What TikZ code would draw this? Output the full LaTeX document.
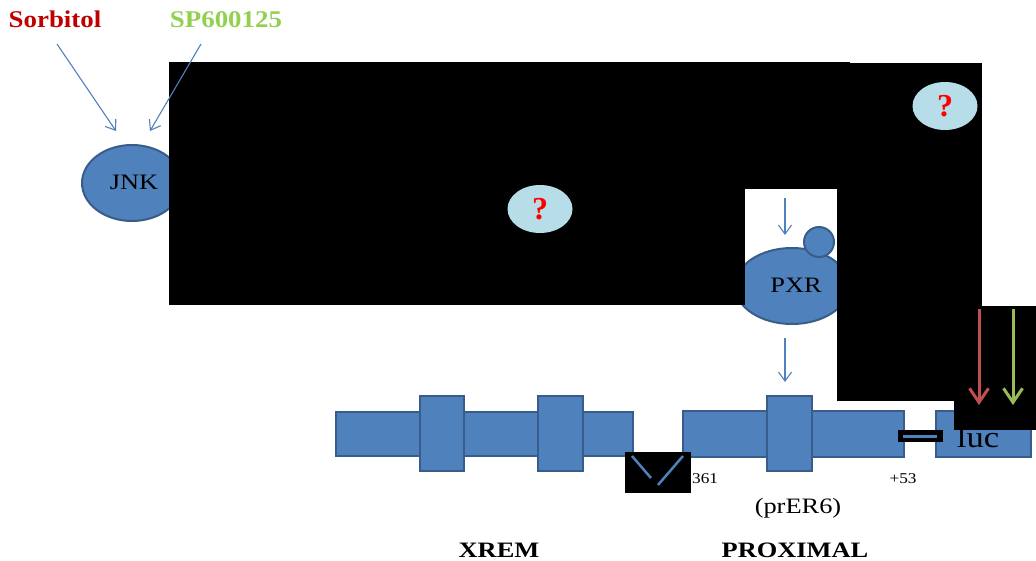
\documentclass[tikz,border=0pt]{standalone}
\usepackage{fontspec}
\setmainfont{Liberation Serif}
\usetikzlibrary{arrows.meta,shapes.geometric}
\definecolor{bF}{HTML}{4F81BD}
\definecolor{bD}{HTML}{385D8A}
\definecolor{qF}{HTML}{B7DEE8}
\definecolor{sorbc}{HTML}{C00000}
\definecolor{spgc}{HTML}{92D050}
\definecolor{aR}{HTML}{C0504D}
\definecolor{aG}{HTML}{9BBB59}
\newcommand{\mystretch}[2][1.15]{\scalebox{#1}[1]{#2}}
\newcommand{\fs}[1]{\fontsize{#1}{#1}\selectfont}
\begin{document}
\begin{tikzpicture}[x=1pt,y=-1pt,
  blob/.style={ellipse, draw=bD, fill=bF, line width=2pt, inner sep=0pt},
  dna/.style={rectangle, draw=bD, fill=bF, line width=2pt, inner sep=0pt},
  qblob/.style={ellipse, fill=qF, inner sep=0pt, minimum width=65pt, minimum height=48pt,
    text=red, font=\bfseries\fs{32}},
  redact/.style={fill=black, inner sep=0pt, outer sep=0pt, rectangle},
  lab/.style={inner sep=0pt, anchor=base},
  barr/.style={draw=bF, line width=1.1pt, -{Straight Barb[length=9pt,width=13pt]}},
  thickarr/.style={line width=3pt, -{Straight Barb[length=14pt,width=19pt,line width=3pt]}},
  bline/.style={draw=bF, line width=2.5pt}
]
\useasboundingbox (0,0) rectangle (1036,560);

% main shapes
\node[blob, minimum width=100pt, minimum height=76pt] (jnk) at (132,183) {};
\node[lab, font=\fs{22}] (jnkt) at (134,189) {\mystretch[1.2]{JNK}};
\node[blob, minimum width=114pt, minimum height=76pt] (pxr) at (792,286) {};
\node[blob, circle, minimum size=30pt] (lig) at (819,242) {};
\node[lab, font=\fs{22}] (pxrt) at (796,292) {\mystretch[1.2]{PXR}};

% DNA
\node[dna, minimum width=297pt, minimum height=44pt] (xbar) at (484.5,434) {};
\node[dna, minimum width=44pt, minimum height=75pt] (x1) at (442,433.5) {};
\node[dna, minimum width=45pt, minimum height=75pt] (x2) at (560.5,433.5) {};
\node[dna, minimum width=221pt, minimum height=46pt] (pbar) at (793.5,434) {};
\node[dna, minimum width=45pt, minimum height=75pt] (p1) at (789.5,433.5) {};
\node[dna, minimum width=95pt, minimum height=46pt] (lucb) at (983.5,434) {};
\node[lab, font=\fs{30}] (luct) at (978,447) {\mystretch{luc}};

% labels
\node[lab, text=sorbc, font=\bfseries\fs{24}] (sorb) at (55,27) {\mystretch[1.12]{Sorbitol}};
\node[lab, text=spgc, font=\bfseries\fs{24}] (sp) at (226,27) {\mystretch[1.12]{SP600125}};
\node[lab, anchor=base west, font=\fs{15}] (m361) at (692,483) {\mystretch{361}};
\node[lab, font=\fs{15}] (p53) at (903,483) {\mystretch{+53}};
\node[lab, font=\fs{22}] (prer) at (798,513) {\mystretch[1.2]{(prER6)}};
\node[lab, font=\bfseries\fs{22}] (xrem) at (499,557) {\mystretch[1.2]{XREM}};
\node[lab, font=\bfseries\fs{22}] (prox) at (795,557) {\mystretch[1.2]{PROXIMAL}};

% redaction boxes
\fill[black] (169,62) rectangle (850,189);
\fill[black] (169,189) rectangle (745,305);
\fill[black] (837,63) rectangle (982,401);
\fill[black] (954,306) rectangle (1036,430);
\node[redact, minimum width=66pt, minimum height=41pt] (brk) at (658,472.5) {};
\node[redact, minimum width=45pt, minimum height=12pt] (link) at (920.5,436) {};

% items on top
\node[qblob] (q1) at (540,209) {?};
\node[qblob] (q2) at (945,106) {?};

\coordinate (s0) at (57,44);   \coordinate (s1) at (116,131);
\coordinate (c0) at (201,44);  \coordinate (c1) at (150,131);
\coordinate (u0) at (785,198); \coordinate (u1) at (785,235);
\coordinate (d0) at (785,338); \coordinate (d1) at (785,382);
\draw[barr] (s0) -- (s1);
\draw[barr] (c0) -- (c1);
\draw[barr] (u0) -- (u1);
\draw[barr] (d0) -- (d1);

\coordinate (r0) at (979,309); \coordinate (r1) at (979,405);
\coordinate (g0) at (1013,309); \coordinate (g1) at (1013,405);
\draw[thickarr, draw=aR] (r0) -- (r1);
\draw[thickarr, draw=aG] (g0) -- (g1);

\coordinate (v1) at (632,456); \coordinate (v2) at (651,478);
\coordinate (v3) at (658,485); \coordinate (v4) at (683,456);
\draw[bline] (v1) -- (v2);
\draw[bline] (v3) -- (v4);
\coordinate (l1) at (903,436); \coordinate (l2) at (937,436);
\draw[bline, line width=3pt] (l1) -- (l2);
\end{tikzpicture}
\end{document}
